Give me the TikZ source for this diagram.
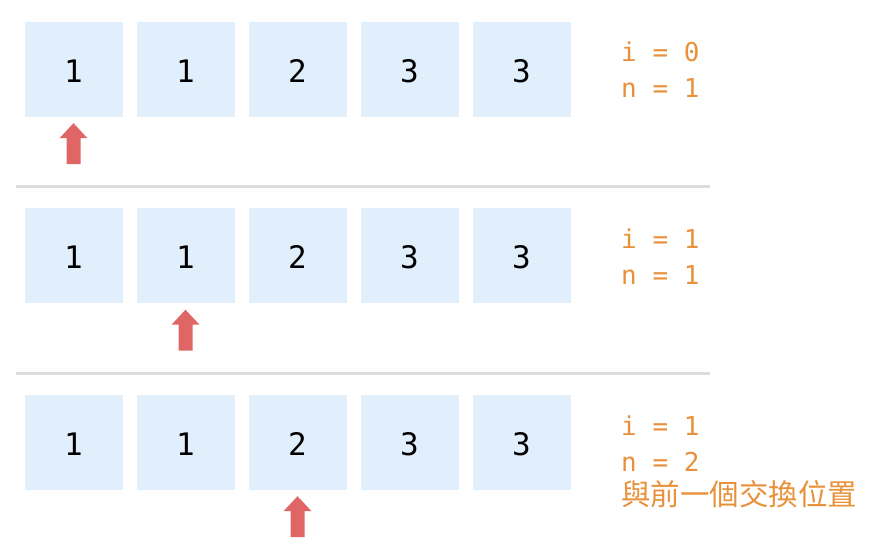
\documentclass[tikz,border=0pt]{standalone}
\usepackage{fontspec}
\setmonofont{DejaVu Sans Mono}
\newfontfamily\cjk{Noto Sans CJK TC}
\usetikzlibrary{calc}
\definecolor{cellbg}{HTML}{E1EEFC}
\definecolor{noteorange}{HTML}{E8913A}
\definecolor{pointerred}{HTML}{E06666}
\definecolor{rulegray}{HTML}{DDDDDD}

\begin{document}
\begin{tikzpicture}[x=1pt,y=-1pt,
cell/.style = {fill=cellbg, minimum width=98pt, minimum height=95pt,
  inner sep=0pt, text height=26pt, text depth=0pt,
  font=\ttfamily\fontsize{31}{31}\selectfont},
note/.style = {anchor=base west, inner sep=0pt, text=noteorange,
  font=\ttfamily\fontsize{26}{26}\selectfont},
pointer/.style = {fill=pointerred},
divider/.style = {draw=rulegray, line width=3pt}
]
\useasboundingbox (0,0) rectangle (879,556);

\pgfmathsetmacro{\pitch}{186.5}
\foreach \r/\i/\n in {0/0/1, 1/1/1, 2/1/2} {
  % one row of cells
  \foreach \v [count=\k from 0] in {1,1,2,3,3}
    \node [cell] (c\r\k) at ({73.5+112*\k},{69.5+\pitch*\r}) {\v};
  \node [note] (i\r) at (621,{62+\pitch*\r}) {i = \i};
  \node [note] (n\r) at (621,{98+\pitch*\r}) {n = \n};
  % pointer under cell r
  \coordinate (p\r) at ($ (c\r\r.south) + (0,6) $);
  \fill [pointer] (p\r)
    -- ++(14,15) -- ++(-7,0) -- ++(0,26) -- ++(-14,0)
    -- ++(0,-26) -- ++(-7,0) -- cycle;
}
\node [note, font=\cjk\fontsize{29.5}{29.5}\selectfont] (swap) at (621,505) {與前一個交換位置};

\draw [divider] (16,186.5) -- (710,186.5);
\draw [divider] (16,373) -- (710,373);

\end{tikzpicture}
\end{document}
